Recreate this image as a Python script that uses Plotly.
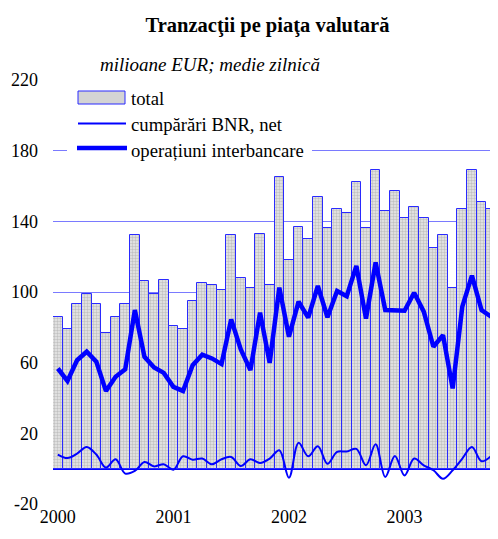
import plotly.graph_objects as go

years = [2000, 2001, 2002, 2003]
months = [f"{y}-{m:02d}" for y in years for m in range(1, 13)][:46]
year_ticks = ["2000-01", "2001-01", "2002-01", "2003-01"]
year_labels = ["2000", "2001", "2002", "2003"]
y_ticks = [-20, 20, 60, 100, 140, 180, 220]
y_labels = ["-20", "20", "60", "100", "140", "180", "220"]

total = [86, 79, 93, 99, 93, 77, 86, 93, 132, 106, 99, 107,
         81, 79, 95, 105, 104, 101, 132, 108, 102, 133, 104, 165,
         118, 137, 130, 154, 136, 147, 145, 162, 136, 169, 146, 157,
         142, 148, 142, 125, 132, 102, 147, 169, 151, 147]

bnr_net = [8, 6, 8.5, 12.3, 8, 0.6, 5.3, -2.8, -1.3, 3.8, 1.3, 2.5,
           -0.6, 7, 5.1, 5.7, 2.5, 5.3, 6.6, 1.5, 5.3, 3.2, 5.7, 10.4,
           -5.1, 14.6, 7, 12.7, 2.8, 9.5, 9.7, 11.2, 1.9, 13.8, -4.7, 7.2,
           -3.8, 5.7, 1.9, -0.9, -5.7, -0.9, 5.7, 12.3, 4.2, 7.2]

interbank = [56.7, 49.7, 61.4, 66.2, 60.5, 43.9, 52, 56.2, 89.8, 63.3, 57.3, 54.2,
             46.3, 44, 58.6, 64.5, 62.4, 59.2, 84.5, 67.5, 55.8, 88.3, 59.9, 102.5,
             74.7, 94.5, 85.5, 103.4, 85.7, 100.6, 97.6, 114.8, 84.9, 116.7, 89.8, 89.8,
             89.4, 99.6, 88.9, 69, 75.6, 45.4, 91.7, 109.3, 89.8, 86]

legend_names = ["total", "cumpărări BNR, net", "operațiuni interbancare"]

FONT = "Liberation Serif"
BLUE = "#0000ff"

fig = go.Figure()
fig.add_trace(go.Bar(
    x=months, y=total, name=legend_names[0], showlegend=False,
    marker=dict(color="#d0d0d0",
                line=dict(color="#2a2aff", width=1),
                pattern=dict(shape=".", fgcolor="#999999", bgcolor="#e8e8e8",
                             size=3, solidity=0.5)),
))
fig.add_trace(go.Scatter(
    x=months, y=bnr_net, name=legend_names[1], mode="lines", showlegend=False,
    line=dict(color=BLUE, width=2, shape="spline", smoothing=1.0),
))
fig.add_trace(go.Scatter(
    x=months, y=interbank, name=legend_names[2], mode="lines", showlegend=False,
    line=dict(color=BLUE, width=4.5),
))

# page body has an 8px margin; figure is sized to fit the window
OFF = 8
W, H = 490, 531
L, R, T, B = 45, 2, 72, 35
PW, PH = W - L - R, H - T - B


def px(xpage):
    return (xpage - OFF - L) / PW


def py(ypage):
    return (H - B - (ypage - OFF)) / PH


shapes = [
    dict(type="rect", xref="paper", yref="paper", x0=px(67), x1=px(312), y0=py(162), y1=py(86),
         fillcolor="white", line=dict(width=0), layer="above"),
    dict(type="rect", xref="paper", yref="paper", x0=px(78), x1=px(125), y0=py(104), y1=py(91),
         fillcolor="#d4d4d4", line=dict(color="#2a2aff", width=1), layer="above"),
    dict(type="line", xref="paper", yref="paper", x0=px(78), x1=px(126), y0=py(123.5), y1=py(123.5),
         line=dict(color=BLUE, width=2), layer="above"),
    dict(type="line", xref="paper", yref="paper", x0=px(77), x1=px(127), y0=py(148), y1=py(148),
         line=dict(color=BLUE, width=4.5), layer="above"),
]

annotations = [
    dict(text="milioane EUR; medie zilnică", xref="paper", yref="paper",
         x=px(98), y=py(64), xanchor="left", yanchor="middle", showarrow=False,
         font=dict(family=FONT, size=19, color="black", style="italic")),
]
for name, ypix in zip(legend_names, [98, 124.5, 150.5]):
    annotations.append(dict(text=name, xref="paper", yref="paper", x=px(129), y=py(ypix),
                            xanchor="left", yanchor="middle", showarrow=False,
                            font=dict(family=FONT, size=18.7, color="black")))

fig.update_layout(
    width=W, height=H,
    margin=dict(l=L, r=R, t=T, b=B),
    paper_bgcolor="white", plot_bgcolor="white",
    title=dict(text="<b>Tranzacţii pe piaţa valutară</b>", x=(267.5 - OFF) / W, xanchor="center",
               y=1 - (25 - OFF) / H, yanchor="middle",
               font=dict(family=FONT, size=20.5, color="black")),
    bargap=0,
    showlegend=False,
    shapes=shapes,
    annotations=annotations,
    font=dict(family=FONT, size=18, color="black"),
)
fig.update_xaxes(type="category", range=[-0.5, 45.5], tickvals=year_ticks, ticktext=year_labels,
                 showgrid=False, ticks="", showline=False, zeroline=False,
                 tickfont=dict(family=FONT, size=18, color="black"))
fig.update_yaxes(range=[-20, 220], tickvals=y_ticks, ticktext=y_labels,
                 showgrid=True, gridcolor="#7a7aff", gridwidth=1,
                 zeroline=True, zerolinecolor=BLUE, zerolinewidth=2.5,
                 showline=False, ticks="", ticklabelstandoff=14,
                 tickfont=dict(family=FONT, size=18, color="black"))

fig.write_html("out.html")
